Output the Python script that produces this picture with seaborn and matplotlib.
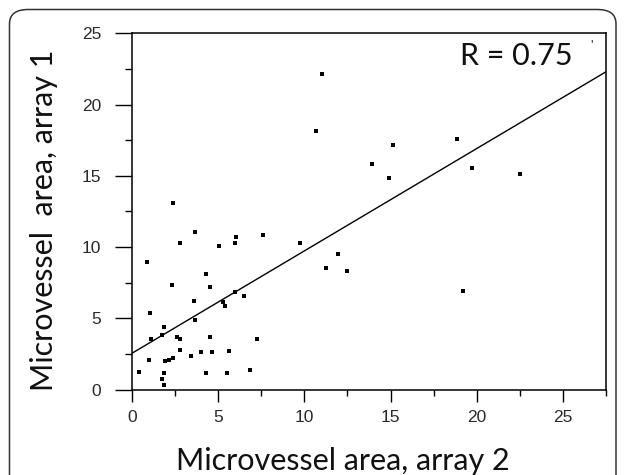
import numpy as np
import pandas as pd
import matplotlib
matplotlib.use("Agg")
import matplotlib.pyplot as plt
from matplotlib.patches import FancyBboxPatch
from matplotlib.ticker import MultipleLocator
import seaborn as sns

# ---- data ----
array2 = [11.0, 10.66, 15.14, 18.88, 13.93, 14.9, 19.73, 22.5, 2.4, 11.97, 11.24, 12.49, 19.23,
          3.68, 2.80, 5.03, 6.04, 6.0, 7.61, 9.77, 0.87, 4.31, 2.32, 4.55, 6.0, 6.48, 3.58, 5.28, 5.42,
          1.06, 1.84, 3.68, 1.10, 1.74, 2.61, 2.80, 4.51, 7.26, 2.80, 3.44, 4.02, 4.66, 5.63,
          1.00, 1.93, 2.13, 2.36, 0.38, 1.88, 4.31, 5.52, 6.83, 1.74, 1.88]
array1 = [22.15, 18.17, 17.16, 17.59, 15.83, 14.83, 15.55, 15.13, 13.07, 9.52, 8.51, 8.35, 6.90,
          11.04, 10.27, 10.10, 10.73, 10.27, 10.85, 10.27, 8.98, 8.09, 7.34, 7.20, 6.87, 6.59, 6.22, 6.17, 5.87,
          5.40, 4.41, 4.88, 3.53, 3.83, 3.71, 3.53, 3.67, 3.53, 2.78, 2.38, 2.64, 2.64, 2.73,
          2.08, 2.03, 2.08, 2.20, 1.26, 1.19, 1.19, 1.19, 1.38, 0.72, 0.32]
fit_x = [0.0, 27.5]
fit_y = [2.55, 22.3]
x_ticks = [0, 5, 10, 15, 20, 25]
y_ticks = [0, 5, 10, 15, 20, 25]
x_label = "Microvessel area, array 2"
y_label = "Microvessel  area, array 1"
r_text = "R = 0.75"

df = pd.DataFrame({"array2": array2, "array1": array1})
fit = pd.DataFrame({"x": fit_x, "y": fit_y})

sns.set_theme(style="ticks")
label_font = ["Lato", "DejaVu Sans"]
tick_font = ["Liberation Sans", "DejaVu Sans"]

fig = plt.figure(figsize=(6.25, 4.75), dpi=100)
fig.patch.set_facecolor("white")
ax = fig.add_axes([132 / 625, 1 - 389.6 / 475, 474 / 625, 356.3 / 475])
ax.set_facecolor("white")

sns.lineplot(data=fit, x="x", y="y", color="black", linewidth=1.0, ax=ax)
sns.scatterplot(data=df, x="array2", y="array1", color="black", s=10, marker="s",
                linewidth=0, ax=ax)

ax.set_xlim(0, 27.5)
ax.set_ylim(0, 25)
ax.set_xticks(x_ticks)
ax.set_yticks(y_ticks)
ax.xaxis.set_minor_locator(MultipleLocator(2.5))
ax.yaxis.set_minor_locator(MultipleLocator(2.5))
ax.set_xlabel("")
ax.set_ylabel("")

for s in ax.spines.values():
    s.set_visible(True)
    s.set_color("black")
    s.set_linewidth(1.1)

ax.tick_params(axis="x", which="major", direction="out", length=8.4, width=1.0,
               pad=6, labelsize=12.5, colors="black", labelcolor="#2a2a2a")
ax.tick_params(axis="x", which="minor", direction="out", length=4.0, width=1.0, colors="black")
ax.tick_params(axis="y", which="major", direction="out", length=12, width=1.0,
               pad=10, labelsize=12.5, colors="black", labelcolor="#2a2a2a")
ax.tick_params(axis="y", which="minor", direction="out", length=5, width=1.0, colors="black")
for lab in ax.get_xticklabels() + ax.get_yticklabels():
    lab.set_family(tick_font)

fig.text(343 / 625, 1 - 470 / 475, x_label, ha="center", va="baseline",
         fontsize=22, family=label_font, color="#111111")
fig.text(44 / 625, 1 - 220 / 475, y_label, ha="center", va="center", rotation=90,
         fontsize=22, family=label_font, color="#111111")
fig.text(460 / 625, 1 - 65 / 475, r_text, ha="left", va="baseline",
         fontsize=22, family=label_font, color="#111111")
fig.text(590 / 625, 1 - 50 / 475, "'", ha="left", va="baseline",
         fontsize=9, family=label_font, color="#111111")

border = FancyBboxPatch((9.5 / 625, -0.1), (616 - 9.5) / 625, 1.1 - 9.5 / 475,
                        boxstyle="round,pad=0,rounding_size=0.03",
                        transform=fig.transFigure, fill=False,
                        edgecolor="#333333", linewidth=1.1, clip_on=False)
fig.patches.append(border)

fig.savefig("out.png", dpi=100)
